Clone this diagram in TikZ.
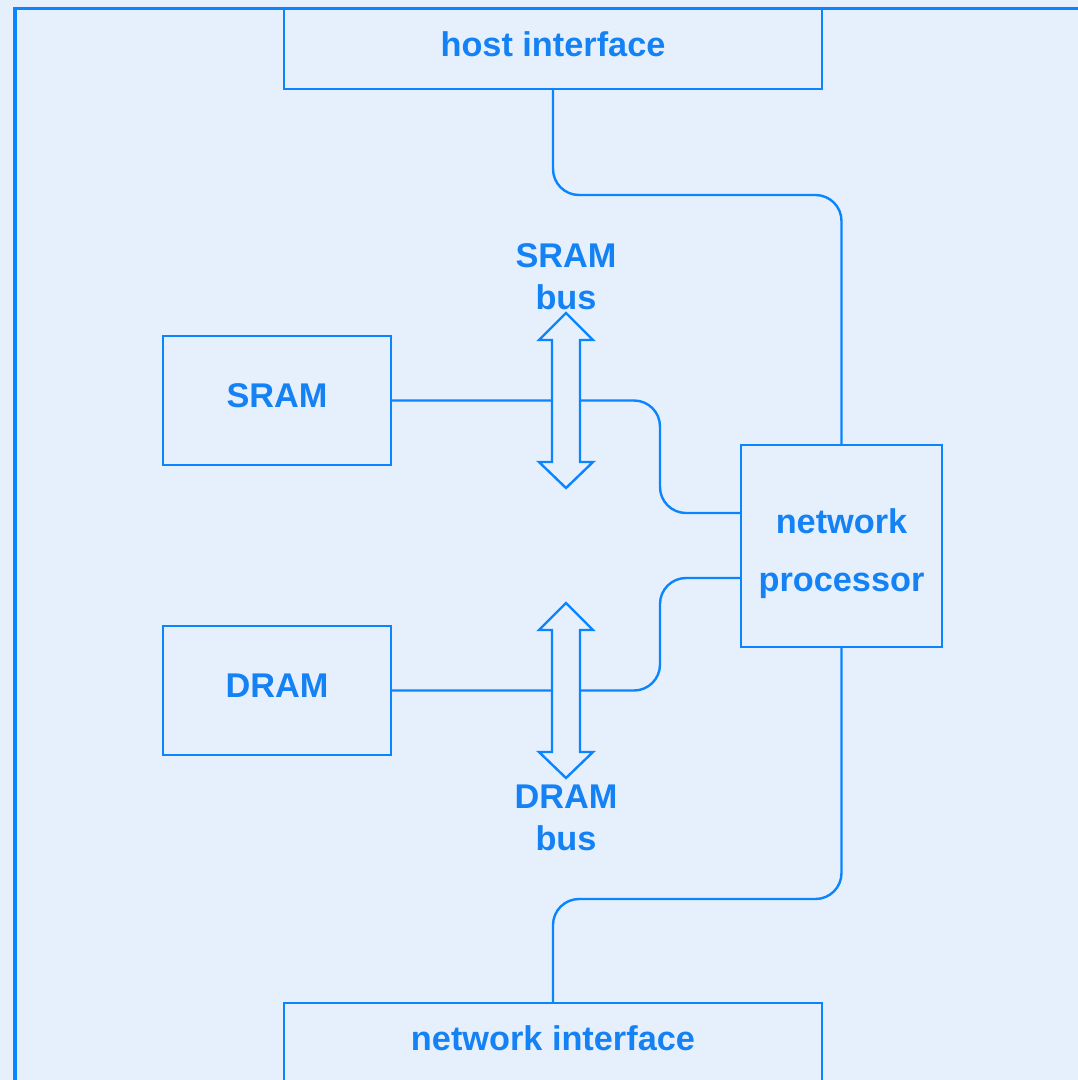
\documentclass[tikz,border=0pt]{standalone}
\usepackage{fontspec}
\setmainfont{Liberation Sans}
\definecolor{bg}{HTML}{E6F0FC}
\definecolor{ln}{HTML}{0A84FF}
\definecolor{tx}{HTML}{1482F5}
\newcommand\busarrow[3]{% center x, top tip y, bottom tip y
  \filldraw[ln, line width=2.4pt, fill=bg, line join=miter]
    (#1,#2) -- (#1+27,#2+27) -- (#1+14,#2+27) -- (#1+14,#3-26) -- (#1+27,#3-26)
    -- (#1,#3) -- (#1-27,#3-26) -- (#1-14,#3-26) -- (#1-14,#2+27) -- (#1-27,#2+27) -- cycle;}
\begin{document}
\begin{tikzpicture}[x=1pt,y=-1pt,
  box/.style={draw=ln, line width=2.4pt, inner sep=0pt},
  lbl/.style={inner sep=0pt, font=\fontsize{34.3}{40}\selectfont\bfseries, text=tx, align=center},
  conn/.style={ln, line width=2.4pt, rounded corners=26pt}]
\fill[bg] (0,0) rectangle (1078,1080);
\useasboundingbox (0,0) rectangle (1078,1080);
% outer frame
\draw[ln, line width=3.2pt] (15,1090) -- (15,8.5) -- (1090,8.5);
% boxes
\node[box, minimum width=538pt, minimum height=81pt] (host) at (553,48.5) {};
\node[lbl] (hostt) at (553,44) {host interface};
\node[box, minimum width=228pt, minimum height=129pt] (sram) at (277,400.5) {};
\node[lbl] (sramt) at (277,396) {SRAM};
\node[box, minimum width=228pt, minimum height=129pt] (dram) at (277,690.5) {};
\node[lbl] (dramt) at (277,686) {DRAM};
\node[box, minimum width=201pt, minimum height=202pt] (np) at (841.5,546) {};
\node[lbl] (npt1) at (841.5,521) {network};
\node[lbl] (npt2) at (841.5,586) {processor};
\node[box, minimum width=538pt, minimum height=120pt] (ni) at (553,1063) {};
\node[lbl] (nit) at (553,1038) {network interface};
% connectors
\draw[conn] (host.south) -- (553,195) -- (841.5,195) -- (np.north);
\draw[conn] (np.south) -- (841.5,899) -- (553,899) -- (553,1003);
\draw[conn] (sram.east) -- (660,400.5) -- (660,513) -- ([yshift=33pt]np.west);
\draw[conn] (dram.east) -- (660,690.5) -- (660,578) -- ([yshift=-32pt]np.west);
% bus arrows
\busarrow{566}{313}{488}
\busarrow{566}{603}{778}
\node[lbl] (sb1) at (566,256) {SRAM};
\node[lbl] (sb2) at (566,297) {bus};
\node[lbl] (db1) at (566,797) {DRAM};
\node[lbl] (db2) at (566,838) {bus};
\end{tikzpicture}
\end{document}
